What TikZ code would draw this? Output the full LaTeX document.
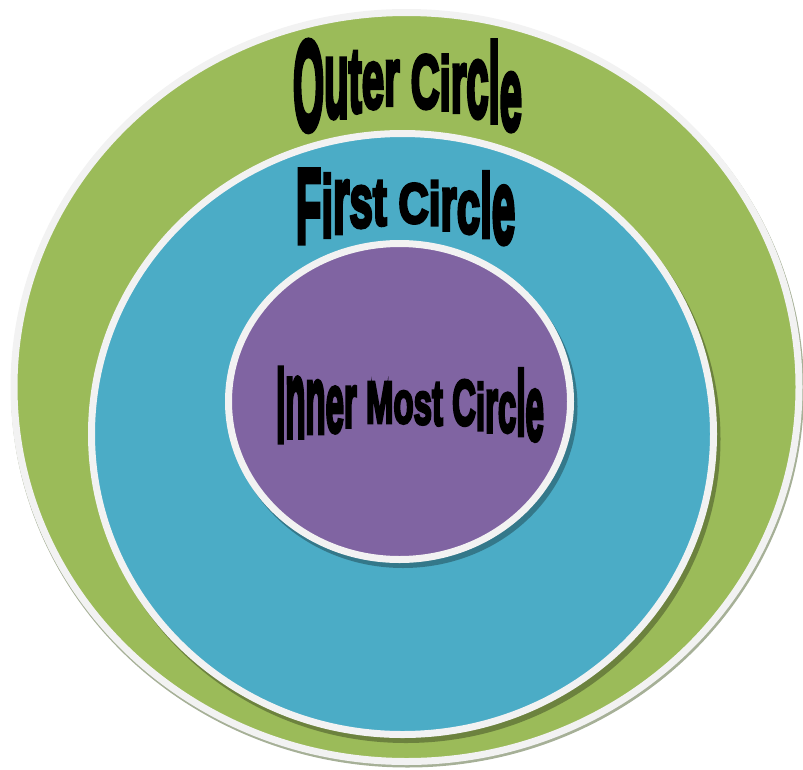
\documentclass[tikz,border=0pt]{standalone}
\usepackage{fontspec}
\usepackage{graphicx}
\newfontfamily\heavy[FakeBold=5]{Liberation Sans Bold}
\definecolor{ringgreen}{HTML}{9BBB59}
\definecolor{ringblue}{HTML}{4BACC6}
\definecolor{ringpurple}{HTML}{8064A2}
\definecolor{ringwhite}{HTML}{F2F2F2}
\definecolor{outershadow}{HTML}{A6B097}
\newcommand\wxs{1}
\newcommand\wlet[3]{\raisebox{#2pt}{\scalebox{\wxs}[#1]{#3}}}
\tikzset{
  ring/.style={draw=ringwhite, line width=7pt},
  ringshade/.style={fill=black, fill opacity=0.3},
  warp/.style={anchor=base, inner sep=0pt, text=black},
}
\begin{document}
\begin{tikzpicture}[x=1pt,y=-1pt]
\useasboundingbox (0,0) rectangle (803,769);
% outer ring
\fill[outershadow] (407.5,389.5) ellipse [x radius=396.5, y radius=378];
\filldraw[ring, fill=ringgreen] (406.5,387) ellipse [x radius=392.5, y radius=374.5];
% first ring
\fill[ringshade] (406,439) ellipse [x radius=314.5, y radius=304];
\filldraw[ring, fill=ringblue] (402.5,434) ellipse [x radius=311, y radius=300.5];
% inner ring
\fill[ringshade] (403,406.5) ellipse [x radius=174.5, y radius=161.5];
\filldraw[ring, fill=ringpurple] (399.5,401.5) ellipse [x radius=171, y radius=158];
% labels
\node[warp, font=\heavy\fontsize{40}{40}\selectfont] (outerlabel) at (407.5,105)
  {\wlet{3.2}{-25}{O}\wlet{2.74}{-12}{u}\wlet{2.3}{-7}{t}\wlet{2.1}{-3}{e}\wlet{2.05}{0}{r} \wlet{1.9}{-3}{C}\wlet{1.9}{-5}{i}\wlet{2.2}{-7}{r}\wlet{2.6}{-12}{c}\wlet{2.8}{-17}{l}\wlet{2.64}{-25}{e}};
\node[warp, font=\heavy\fontsize{42}{42}\selectfont] (firstlabel) at (405.5,223)
  {\wlet{2.53}{-20}{F}\wlet{2.07}{-14}{i}\wlet{2.3}{-10}{r}\wlet{1.8}{-4}{s}\wlet{1.6}{-2}{t} \wlet{1.35}{0}{C}\wlet{1.45}{-2}{i}\wlet{1.83}{-7}{r}\wlet{1.82}{-10}{c}\wlet{2.13}{-14}{l}\wlet{2.5}{-20}{e}};
\node[warp, font=\heavy\fontsize{33}{33}\selectfont] (innerlabel) at (410,423)
  {\wlet{3.26}{-19}{I}\wlet{3.33}{-14}{n}\wlet{2.92}{-10}{n}\wlet{2.53}{-9}{e}\wlet{2.28}{-4}{r} \wlet{1.8}{0}{M}\wlet{1.8}{0}{o}\wlet{1.8}{-1}{s}\wlet{1.95}{-2}{t} \wlet{1.95}{-2}{C}\wlet{1.99}{-7}{i}\wlet{2.34}{-9}{r}\wlet{2.19}{-9}{c}\wlet{2.75}{-12}{l}\wlet{2.81}{-17}{e}};
\end{tikzpicture}
\end{document}
